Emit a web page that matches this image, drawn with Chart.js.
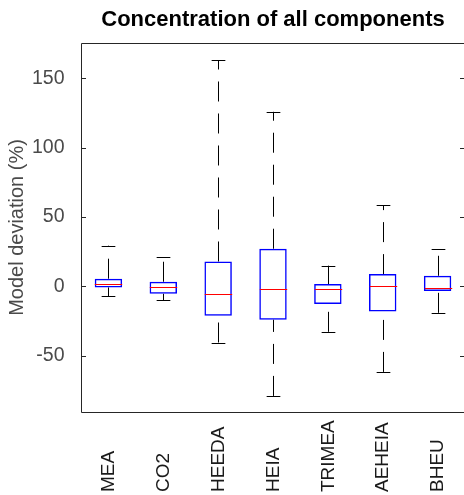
<!DOCTYPE html>
<html>
<head>
<meta charset="utf-8">
<script src="https://cdn.jsdelivr.net/npm/chart.js@4/dist/chart.umd.min.js"></script>
<style>
  html, body { margin: 0; padding: 0; overflow: hidden; background: #fff; }
</style>
</head>
<body>
<canvas id="myChart" width="466" height="495"></canvas>
<script>
const categories = ["MEA", "CO2", "HEEDA", "HEIA", "TRIMEA", "AEHEIA", "BHEU"];
const lowerWhisker = [-7.2, -9.8, -40.4, -78.9, -32.7, -61.6, -19];
const q1 = [-0.7, -5.3, -21.2, -24, -12.7, -18, -3.3];
const median = [1.9, -0.7, -5.5, -1.9, -1.9, 0.5, -0.9];
const q3 = [5.6, 3.4, 18, 27.2, 1.7, 8.9, 7.7];
const upperWhisker = [29.4, 20.9, 163.2, 125.9, 15, 58.5, 26.7];
const yTicks = [-50, 0, 50, 100, 150];

const boxes = [];
for (let i = 0; i < categories.length; i++) {
  boxes.push([q1[i], q3[i]]);
}

// whiskers, caps, medians, frame and x labels
const boxPlotExtras = {
  id: "boxPlotExtras",
  afterDatasetsDraw(chart) {
    const c = chart.ctx;
    const x = chart.scales.x;
    const y = chart.scales.y;
    const area = chart.chartArea;
    const step = (area.right - area.left) / categories.length;
    const capHalf = step * 0.125;
    const boxHalf = step * 0.25;

    c.save();
    for (let i = 0; i < categories.length; i++) {
      const px = Math.round(x.getPixelForValue(i)) + 0.5;

      // whiskers, drawn upwards like matlab
      c.strokeStyle = "#000";
      c.lineWidth = 1;
      c.setLineDash([20, 12]);
      c.beginPath();
      c.moveTo(px, y.getPixelForValue(lowerWhisker[i]));
      c.lineTo(px, y.getPixelForValue(q1[i]));
      c.stroke();
      c.beginPath();
      c.moveTo(px, y.getPixelForValue(q3[i]));
      c.lineTo(px, y.getPixelForValue(upperWhisker[i]));
      c.stroke();
      c.setLineDash([]);

      // caps
      const lo = Math.round(y.getPixelForValue(lowerWhisker[i])) + 0.5;
      const hi = Math.round(y.getPixelForValue(upperWhisker[i])) + 0.5;
      c.beginPath();
      c.moveTo(px - capHalf, lo);
      c.lineTo(px + capHalf, lo);
      c.moveTo(px - capHalf, hi);
      c.lineTo(px + capHalf, hi);
      c.stroke();

      // median
      const md = Math.round(y.getPixelForValue(median[i])) + 0.5;
      c.strokeStyle = "#ff0000";
      c.beginPath();
      c.moveTo(px - boxHalf, md);
      c.lineTo(px + boxHalf, md);
      c.stroke();
    }

    // axes box
    c.strokeStyle = "#262626";
    c.lineWidth = 1;
    c.beginPath();
    c.rect(area.left + 0.5, area.top + 0.5, area.right - area.left - 1, area.bottom - area.top);
    c.stroke();

    // tick marks inside the box
    c.beginPath();
    yTicks.forEach((v) => {
      const py = Math.round(y.getPixelForValue(v)) + 0.5;
      c.moveTo(area.left, py);
      c.lineTo(area.left + 5, py);
      c.moveTo(area.right - 5, py);
      c.lineTo(area.right, py);
    });
    c.stroke();

    // rotated category labels, starting from the bottom
    c.fillStyle = "#1a1a1a";
    c.font = "19px 'Liberation Sans', Arial, sans-serif";
    c.textAlign = "left";
    c.textBaseline = "middle";
    for (let i = 0; i < categories.length; i++) {
      c.save();
      c.translate(x.getPixelForValue(i) + 0.5, 492);
      c.rotate(-Math.PI / 2);
      c.fillText(categories[i], 0, 0);
      c.restore();
    }
    c.restore();
  },
};

const ctx = document.getElementById("myChart");

new Chart(ctx, {
  type: "bar",
  data: {
    labels: categories,
    datasets: [
      {
        data: boxes,
        backgroundColor: "rgba(0,0,0,0)",
        borderColor: "#0000ff",
        borderWidth: 1.5,
        borderSkipped: false,
        barPercentage: 0.5,
        categoryPercentage: 1,
      },
    ],
  },
  options: {
    responsive: false,
    animation: false,
    devicePixelRatio: 1,
    layout: {
      padding: { right: 1 },
    },
    plugins: {
      legend: { display: false },
      tooltip: { enabled: false },
      title: {
        display: true,
        fullSize: false,
        text: "Concentration of all components",
        color: "#000",
        font: { family: "'Liberation Sans', Arial, sans-serif", size: 22, weight: "bold" },
        padding: { top: 6.8, bottom: 9.8 },
      },
    },
    scales: {
      x: {
        grid: { display: false },
        border: { display: false },
        ticks: { display: false },
        afterFit: (scale) => {
          scale.height = 83;
        },
      },
      y: {
        min: -90.5,
        max: 175.5,
        grid: { display: false },
        border: { display: false },
        afterBuildTicks: (scale) => {
          scale.ticks = yTicks.map((v) => ({ value: v }));
        },
        ticks: {
          color: "#4a4a4a",
          padding: 8.5,
          font: { family: "'Liberation Sans', Arial, sans-serif", size: 19.5 },
        },
        title: {
          display: true,
          text: "Model deviation (%)",
          color: "#4a4a4a",
          font: { family: "'Liberation Sans', Arial, sans-serif", size: 20 },
          padding: { top: 5, bottom: 0 },
        },
        afterFit: (scale) => {
          scale.width = 81;
        },
      },
    },
  },
  plugins: [boxPlotExtras],
});
</script>
</body>
</html>
